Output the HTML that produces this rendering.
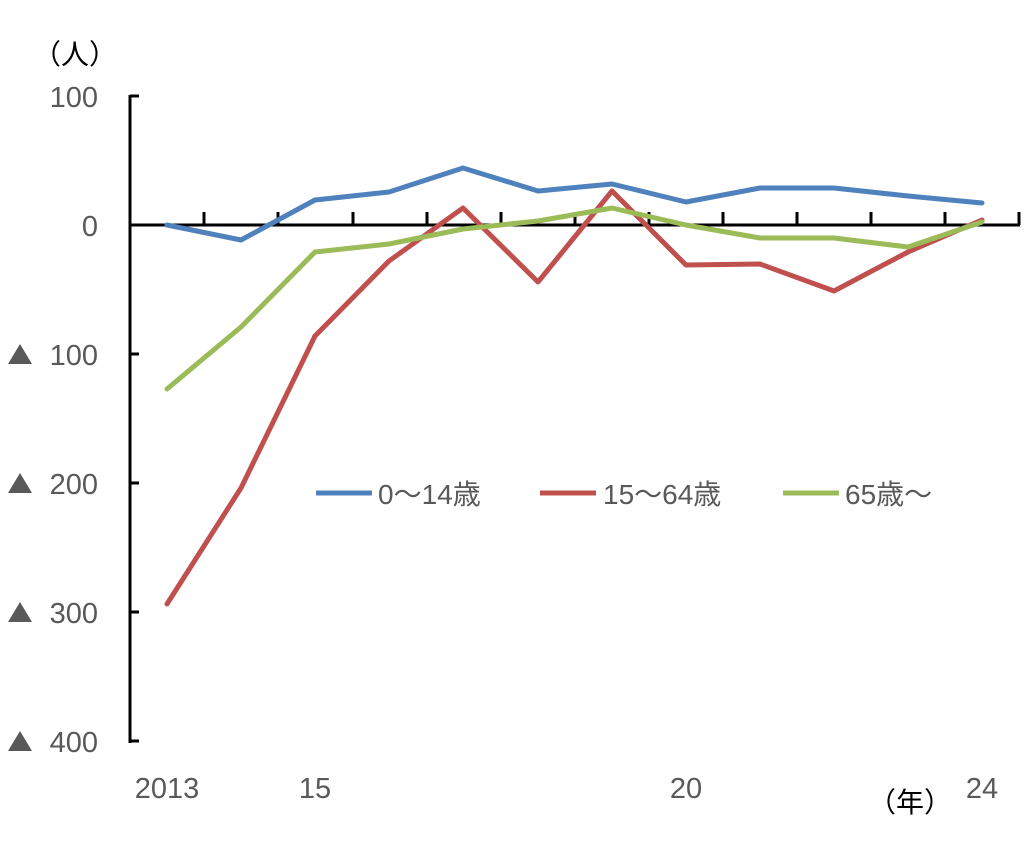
<!DOCTYPE html>
<html><head><meta charset="utf-8"><style>
body{margin:0;background:#fff;}
svg text{font-family:"Liberation Sans","Noto Sans CJK JP",sans-serif;}
</style></head><body>
<svg width="1024" height="837" viewBox="0 0 1024 837" xmlns="http://www.w3.org/2000/svg">
<rect width="1024" height="837" fill="#fff"/>
<g stroke="#000" stroke-width="3" fill="none">
<line x1="130" y1="95" x2="130" y2="743"/>
<line x1="130" y1="96" x2="139" y2="96"/>
<line x1="130" y1="354" x2="139" y2="354"/>
<line x1="130" y1="483" x2="139" y2="483"/>
<line x1="130" y1="612" x2="139" y2="612"/>
<line x1="130" y1="741" x2="139" y2="741"/>
<line x1="130" y1="225" x2="1020" y2="225"/>
<path d="M204 225V212M278 225V212M353 225V212M427 225V212M501 225V212M575 225V212M649 225V212M723 225V212M797 225V212M871 225V212M945 225V212M1019 225V212"/>
</g>
<g font-size="29" fill="#595959" text-anchor="end">
<text x="98" y="107">100</text>
<text x="98" y="236">0</text>
<text x="98" y="365">100</text>
<text x="98" y="494">200</text>
<text x="98" y="623">300</text>
<text x="98" y="752">400</text>
</g>
<g fill="#595959">
<polygon points="8,364 20,344 32,364"/>
<polygon points="8,493 20,473 32,493"/>
<polygon points="8,622 20,602 32,622"/>
<polygon points="8,751 20,731 32,751"/>
</g>
<g font-size="29" fill="#595959" text-anchor="middle">
<text x="167" y="798">2013</text>
<text x="315" y="798">15</text>
<text x="686" y="798">20</text>
<text x="982" y="798">24</text>
</g>
<text x="33" y="64" font-size="28" fill="#000">（人）</text>
<text x="868" y="812" font-size="28" fill="#000">（年）</text>
<g fill="none" stroke-width="5" stroke-linejoin="round" stroke-linecap="round">
<polyline stroke="#C0504D" points="167,604 241,488 315,336 389,261 463,208 538,282 612,191 686,265 760,264 834,291 908,252 982,220"/>
<polyline stroke="#9BBB59" points="167,389 241,327 315,252 389,244 463,229 538,221 612,208 686,225 760,238 834,238 908,247 982,222"/>
<polyline stroke="#4F81BD" points="167,225 241,240 315,200 389,192 463,168 538,191 612,184 686,202 760,188 834,188 908,196 982,203"/>
</g>
<g stroke-width="5">
<line x1="316" y1="493" x2="372" y2="493" stroke="#4F81BD"/>
<line x1="540" y1="493" x2="596" y2="493" stroke="#C0504D"/>
<line x1="783" y1="493" x2="839" y2="493" stroke="#9BBB59"/>
</g>
<g font-size="28" fill="#595959">
<text x="378" y="504">0～14歳</text>
<text x="603" y="504">15～64歳</text>
<text x="845" y="504">65歳～</text>
</g>
</svg>
</body></html>
